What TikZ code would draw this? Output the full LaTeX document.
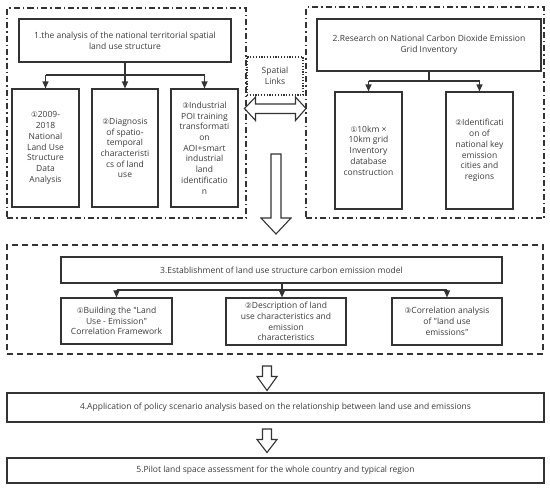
\documentclass[tikz,border=0pt]{standalone}
\usepackage{fontspec}
\setmainfont{Open Sans}
\newfontfamily\symf{DejaVu Sans}
\usetikzlibrary{arrows.meta}
\definecolor{linec}{HTML}{333333}
\definecolor{textc}{HTML}{3A3A3A}
\newcommand\cnum[1]{{\symf\fontsize{7.6}{7.6}\selectfont #1}}
\newcommand\qq{\textquotedbl}
\begin{document}
\begin{tikzpicture}[x=1pt,y=-1pt,line width=1.1pt,
  box/.style={draw=linec,rectangle,inner sep=0pt,align=center,text=textc,
    font=\fontsize{8.5}{10.7}\selectfont},
  dashdotbox/.style={draw=linec,rectangle,inner sep=0pt,
    dash pattern=on 6pt off 3pt on 1.5pt off 3pt},
  dashbox/.style={draw=linec,rectangle,inner sep=0pt,dash pattern=on 6pt off 4pt},
  dotbox/.style={draw=linec,rectangle,inner sep=0pt,dash pattern=on 1.2pt off 1.6pt,
    align=center,text=textc,font=\fontsize{8.5}{10.7}\selectfont},
  conn/.style={draw=linec,line width=1.1pt},
  arr/.style={conn,-{Triangle[width=6pt,length=7pt]}},
  blockarrow/.style={draw=linec,fill=white,line width=1.1pt,line join=miter}
]
\useasboundingbox (0,0) rectangle (550,488);

% outer groups
\node[dashdotbox,minimum width=239pt,minimum height=210pt] (outerL) at (126.5,113) {};
\node[dashdotbox,minimum width=238pt,minimum height=211pt] (outerR) at (425,112.5) {};
\node[dashbox,minimum width=536pt,minimum height=109pt] (sec3) at (275,299.5) {};

% part 1
\node[box,minimum width=212pt,minimum height=43pt] (t1) at (125,40.5)
  {1.the analysis of the national territorial spatial\\land use structure};
\node[box,minimum width=67pt,minimum height=118pt] (a1) at (45.5,148)
  {\cnum{①}2009-\\2018\\National\\Land Use\\Structure\\Data\\Analysis};
\node[box,minimum width=66pt,minimum height=118pt] (b1) at (125,148)
  {\cnum{②}Diagnosis\\of spatio-\\temporal\\characteristi\\cs of land\\use};
\node[box,minimum width=67pt,minimum height=118pt] (c1) at (204.5,148)
  {\cnum{③}Industrial\\POI training\\transformati\\on\\AOI+smart\\industrial\\land\\identificatio\\n};
\coordinate (j1) at (t1.south |- 0,75);
\draw[conn] (t1.south) -- (j1);
\draw[conn] (a1.north |- j1) -- (c1.north |- j1);
\draw[arr] (a1.north |- j1) -- (a1.north);
\draw[arr] (j1) -- (b1.north);
\draw[arr] (c1.north |- j1) -- (c1.north);

% part 2
\node[box,minimum width=224pt,minimum height=52pt] (t2) at (429,45)
  {2.Research on National Carbon Dioxide Emission\\Grid Inventory};
\node[box,minimum width=67pt,minimum height=117pt] (a2) at (368.5,150.5)
  {\cnum{①}10km ×\\10km grid\\Inventory\\database\\construction};
\node[box,minimum width=67pt,minimum height=117pt] (b2) at (479.5,150.5)
  {\cnum{②}Identificati\\on of\\national key\\emission\\cities and\\regions};
\coordinate (j2) at (t2.south |- 0,81);
\draw[conn] (t2.south) -- (j2);
\draw[conn] (a2.north |- j2) -- (b2.north |- j2);
\draw[arr] (a2.north |- j2) -- (a2.north);
\draw[arr] (b2.north |- j2) -- (b2.north);

% spatial links
\node[dotbox,minimum width=56pt,minimum height=38pt] (sp) at (275,76) {Spatial\\Links};
\draw[blockarrow] (244.5,108.5) -- (255.5,97) -- (255.5,104) -- (295.5,104) -- (295.5,97)
  -- (306,108.5) -- (295.5,120.5) -- (295.5,113.5) -- (255.5,113.5) -- (255.5,120.5) -- cycle;
% big down arrow
\draw[blockarrow] (271,154) -- (281,154) -- (281,218) -- (291,218) -- (276,234)
  -- (261,218) -- (271,218) -- cycle;

% part 3
\node[box,minimum width=441pt,minimum height=26pt] (t3) at (281.5,270)
  {3.Establishment of land use structure carbon emission model};
\node[box,minimum width=111pt,minimum height=46pt] (a3) at (116.5,321)
  {\cnum{①}Building the \qq Land\\Use - Emission\qq\\Correlation Framework};
\node[box,minimum width=120pt,minimum height=47pt] (b3) at (286,321.5)
  {\cnum{②}Description of land\\use characteristics and\\emission\\characteristics};
\node[box,minimum width=110pt,minimum height=47pt] (c3) at (447,321.5)
  {\cnum{③}Correlation analysis\\of \qq land use\\emissions\qq};
\coordinate (j3) at (282,290);
\draw[conn] (a3.north |- j3) -- (c3.north |- j3);
\draw[arr] (t3.south -| j3) -- (j3 |- b3.north);
\draw[arr] (a3.north |- j3) -- (a3.north);
\draw[arr] (c3.north |- j3) -- (c3.north);

% part 4 and 5
\node[box,minimum width=537pt,minimum height=29pt] (p4) at (275.5,407.5)
  {4.Application of policy scenario analysis based on the relationship between land use and emissions};
\node[box,minimum width=537pt,minimum height=25pt] (p5) at (275.5,470.5)
  {5.Pilot land space assessment for the whole country and typical region};
\draw[blockarrow] (262.5,366) -- (271.5,366) -- (271.5,376.5) -- (277,376.5) -- (267,390.5)
  -- (257,376.5) -- (262.5,376.5) -- cycle;
\draw[blockarrow] (262.5,429) -- (271.5,429) -- (271.5,439.5) -- (277,439.5) -- (267,452.5)
  -- (257,439.5) -- (262.5,439.5) -- cycle;
\end{tikzpicture}
\end{document}
